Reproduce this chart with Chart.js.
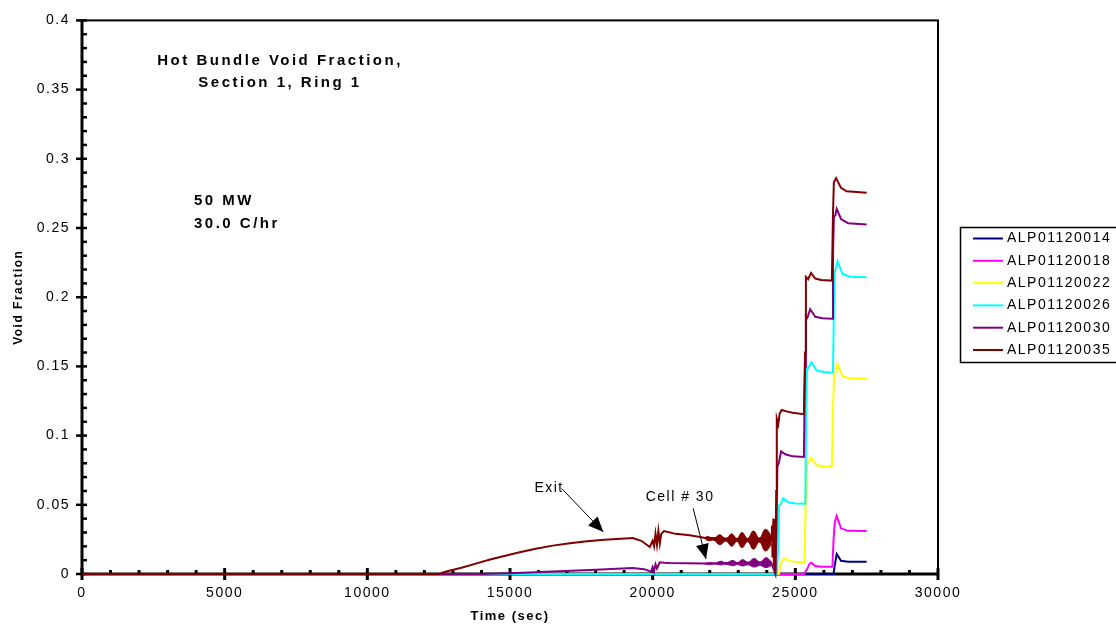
<!DOCTYPE html>
<html>
<head>
<meta charset="utf-8">
<script src="https://cdn.jsdelivr.net/npm/chart.js@4.4.0/dist/chart.umd.min.js"></script>
<style>
body { margin: 0; background: #fff; }
</style>
</head>
<body>
<canvas id="voidChart" width="1116" height="627"></canvas>
<script>
// series labels and colours (legend order)
let seriesNames = ['ALP01120014', 'ALP01120018', 'ALP01120022', 'ALP01120026', 'ALP01120030', 'ALP01120035'];
let seriesColors = ['#000080', '#ff00ff', '#ffff00', '#00ffff', '#800080', '#800000'];

// [time (sec), void fraction]
let alp14 = [[0, 0], [26340, 0], [26380, 0.006], [26450, 0.0144], [26600, 0.0095], [26850, 0.0088], [27500, 0.0088]];
let alp18 = [[0, 0], [25300, 0], [25400, 0.003], [25500, 0.0075], [25560, 0.0081], [25700, 0.0058], [25900, 0.0053],
	[26300, 0.0053], [26340, 0.025], [26380, 0.037], [26450, 0.0419], [26600, 0.033], [26850, 0.0312], [27500, 0.031]];
let alp22 = [[0, 0], [24420, 0], [24470, 0.006], [24520, 0.0088], [24620, 0.0115], [24800, 0.0092], [25000, 0.0088],
	[25320, 0.0086], [25360, 0.05], [25400, 0.0797], [25450, 0.08], [25550, 0.084], [25750, 0.0785], [26000, 0.0776],
	[26280, 0.0776], [26320, 0.12], [26360, 0.144], [26400, 0.145], [26480, 0.1518], [26650, 0.143], [26900, 0.1415], [27500, 0.1413]];
let alp26 = [[0, 0], [24350, 0], [24400, 0.02], [24430, 0.0496], [24480, 0.05], [24570, 0.0546], [24750, 0.0518],
	[25000, 0.051], [25350, 0.0508], [25380, 0.12], [25410, 0.149], [25460, 0.149], [25560, 0.153], [25750, 0.147],
	[26000, 0.146], [26320, 0.1455], [26350, 0.19], [26380, 0.218], [26480, 0.226], [26650, 0.217], [26900, 0.2148], [27500, 0.2145]];
let alp30 = [[0, 0], [14000, 0], [15000, 0.0006], [16500, 0.0018], [18000, 0.003], [19300, 0.0043], [19700, 0.0035],
	[19950, 0.0017], [20000, 0.005], [20050, 0.002], [20100, 0.007], [20150, 0.004], [20250, 0.0085], [20400, 0.0082],
	[20600, 0.0079], [21200, 0.0077], [21800, 0.0075], [24150, 0.0084], [24250, 0.003], [24300, 0], [24340, 0.03],
	[24370, 0.0776], [24420, 0.08], [24500, 0.0885], [24650, 0.0865], [24900, 0.085], [25300, 0.0845], [25340, 0.15],
	[25370, 0.186], [25420, 0.185], [25520, 0.1913], [25700, 0.1858], [25950, 0.1848], [26290, 0.1845], [26320, 0.23],
	[26350, 0.258], [26400, 0.259], [26450, 0.2638], [26600, 0.2565], [26850, 0.2535], [27500, 0.2525]];
let alp35 = [[0, 0], [12500, 0], [12800, 0.002], [13300, 0.0045], [13800, 0.0075], [14300, 0.0105], [14800, 0.013],
	[15300, 0.0155], [15900, 0.0182], [16500, 0.0205], [17100, 0.0222], [17700, 0.0237], [18300, 0.0248], [18900, 0.0255],
	[19300, 0.026], [19600, 0.024], [19900, 0.0195], [20000, 0.024], [20050, 0.02], [20100, 0.029], [20150, 0.021],
	[20200, 0.031], [20250, 0.022], [20300, 0.029], [20400, 0.031], [20800, 0.029], [21300, 0.028], [21800, 0.0262],
	[24150, 0.0245], [24180, 0.035], [24200, 0.012], [24230, 0.04], [24250, 0.005], [24280, 0.03], [24300, 0],
	[24330, 0.06], [24350, 0.112], [24400, 0.108], [24450, 0.116], [24520, 0.1185], [24700, 0.1175], [24900, 0.1165],
	[25300, 0.1155], [25340, 0.16], [25370, 0.2147], [25450, 0.213], [25550, 0.2176], [25700, 0.2135], [25900, 0.2125],
	[26280, 0.212], [26320, 0.26], [26350, 0.283], [26430, 0.286], [26600, 0.279], [26800, 0.2765], [27500, 0.2755]];

// oscillation envelopes (upper / lower) after 21800 s
let exitUpper = [[21800, 0.0262], [21950, 0.027], [22150, 0.0256], [22350, 0.0284], [22570, 0.0254], [22770, 0.029],
	[22950, 0.0255], [23130, 0.030], [23330, 0.0257], [23530, 0.0311], [23740, 0.026], [23950, 0.0323], [24150, 0.028]];
let exitLower = [[21800, 0.0262], [21950, 0.024], [22150, 0.0244], [22350, 0.0212], [22570, 0.0238], [22770, 0.020],
	[22950, 0.0235], [23130, 0.019], [23330, 0.0233], [23530, 0.0179], [23740, 0.023], [23950, 0.0167], [24150, 0.021]];
let cellUpper = [[21800, 0.0075], [22000, 0.0082], [22200, 0.0078], [22380, 0.0092], [22570, 0.008], [22800, 0.0098],
	[22980, 0.0082], [23150, 0.0104], [23350, 0.0084], [23550, 0.0112], [23770, 0.0086], [23970, 0.0118], [24150, 0.009]];
let cellLower = [[21800, 0.0075], [22000, 0.0068], [22200, 0.0072], [22380, 0.0066], [22570, 0.007], [22800, 0.006],
	[22980, 0.0068], [23150, 0.0058], [23350, 0.0066], [23550, 0.005], [23770, 0.0062], [23970, 0.0046], [24150, 0.006]];

let allSeries = [alp14, alp18, alp22, alp26, alp30, alp35];

const FONT = 'Arial, "Liberation Sans", sans-serif';
const toXY = arr => arr.map(p => ({x: p[0], y: p[1]}));

let datasets = allSeries.map((s, i) => ({
	label: seriesNames[i],
	data: toXY(s),
	borderColor: seriesColors[i],
	borderWidth: 2,
	pointRadius: 0,
	tension: 0,
	clip: false,
	order: 6 - i
}));

function band(up, low, color) {
	return [{
		label: '',
		data: toXY(up),
		borderColor: color,
		borderWidth: 1,
		pointRadius: 0,
		tension: 0.45,
		fill: false,
		clip: false,
		order: 1
	}, {
		label: '',
		data: toXY(low),
		borderColor: color,
		backgroundColor: color,
		borderWidth: 1,
		pointRadius: 0,
		tension: 0.45,
		fill: '-1',
		clip: false,
		order: 1
	}];
}
datasets = datasets.concat(band(exitUpper, exitLower, '#800000'), band(cellUpper, cellLower, '#800080'));

function spacedText(ctx, text, x, y, font, spacing, align) {
	ctx.font = font;
	ctx.letterSpacing = spacing;
	ctx.textAlign = align || 'left';
	ctx.textBaseline = 'middle';
	ctx.fillStyle = '#000';
	ctx.fillText(text, x, y);
}

function arrow(ctx, x1, y1, x2, y2) {
	const ang = Math.atan2(y2 - y1, x2 - x1);
	const len = 15, half = 6.5;
	ctx.strokeStyle = '#000';
	ctx.lineWidth = 1;
	ctx.beginPath();
	ctx.moveTo(x1, y1);
	ctx.lineTo(x2, y2);
	ctx.stroke();
	ctx.beginPath();
	ctx.moveTo(x2, y2);
	ctx.lineTo(x2 - len * Math.cos(ang) + half * Math.sin(ang), y2 - len * Math.sin(ang) - half * Math.cos(ang));
	ctx.lineTo(x2 - len * Math.cos(ang) - half * Math.sin(ang), y2 - len * Math.sin(ang) + half * Math.cos(ang));
	ctx.closePath();
	ctx.fillStyle = '#000';
	ctx.fill();
}

const framePlugin = {
	id: 'framePlugin',
	beforeDraw(chart) {
		chart.ctx.letterSpacing = '1.5px';
	},
	beforeDatasetsDraw(chart) {
		const {ctx, chartArea: a, scales: {x, y}} = chart;
		ctx.save();
		ctx.strokeStyle = '#000';
		ctx.lineWidth = 2;
		ctx.strokeRect(a.left, a.top, a.right - a.left, a.bottom - a.top);
		ctx.lineWidth = 3;
		ctx.beginPath();
		ctx.moveTo(a.left, a.top);
		ctx.lineTo(a.left, a.bottom + 1.5);
		ctx.moveTo(a.left - 1.5, a.bottom);
		ctx.lineTo(a.right + 1, a.bottom);
		ctx.stroke();
		// y ticks: major every 0.05, minor every 0.01
		for (let i = 0; i <= 40; i++) {
			const py = y.getPixelForValue(i / 100);
			ctx.lineWidth = 2.5;
			ctx.beginPath();
			ctx.moveTo(i % 5 === 0 ? a.left - 6 : a.left, py);
			ctx.lineTo(a.left + 5, py);
			ctx.stroke();
		}
		// x ticks: major every 5000, minor every 1000
		for (let t = 0; t <= 30000; t += 1000) {
			const px = x.getPixelForValue(t);
			ctx.lineWidth = 3;
			ctx.beginPath();
			if (t % 5000 === 0) {
				ctx.moveTo(px, a.bottom - 6);
				ctx.lineTo(px, a.bottom + 6);
			} else {
				ctx.moveTo(px, a.bottom - 4);
				ctx.lineTo(px, a.bottom);
			}
			ctx.stroke();
		}
		ctx.restore();
	},
	afterDraw(chart) {
		const {ctx, scales: {x, y}} = chart;
		ctx.save();
		const bold = 'bold 15px ' + FONT;
		spacedText(ctx, 'Hot Bundle Void Fraction,', x.getPixelForValue(6940), y.getPixelForValue(0.371), bold, '2.5px', 'center');
		spacedText(ctx, 'Section 1, Ring 1', x.getPixelForValue(6940), y.getPixelForValue(0.3548), bold, '2.5px', 'center');
		spacedText(ctx, '50 MW', x.getPixelForValue(3925), y.getPixelForValue(0.2693), bold, '2.5px', 'left');
		spacedText(ctx, '30.0 C/hr', x.getPixelForValue(3925), y.getPixelForValue(0.2528), bold, '2.5px', 'left');

		const norm = '14px ' + FONT;
		spacedText(ctx, 'Exit', x.getPixelForValue(16370), y.getPixelForValue(0.0618), norm, '1.5px', 'center');
		arrow(ctx, x.getPixelForValue(16810), y.getPixelForValue(0.0618), x.getPixelForValue(18270), y.getPixelForValue(0.0304));
		spacedText(ctx, 'Cell # 30', x.getPixelForValue(20960), y.getPixelForValue(0.0553), norm, '1.5px', 'center');
		arrow(ctx, x.getPixelForValue(21420), y.getPixelForValue(0.0474), x.getPixelForValue(21870), y.getPixelForValue(0.0108));

		// legend box
		ctx.strokeStyle = '#000';
		ctx.lineWidth = 1.5;
		ctx.strokeRect(960.5, 227.5, 170, 135);
		seriesNames.forEach((name, i) => {
			const ly = 238.5 + i * 22.3;
			ctx.strokeStyle = seriesColors[i];
			ctx.lineWidth = 2;
			ctx.beginPath();
			ctx.moveTo(973, ly);
			ctx.lineTo(1003, ly);
			ctx.stroke();
			spacedText(ctx, name, 1007, ly, norm, '1.5px', 'left');
		});
		ctx.restore();
	}
};

var ctx = document.getElementById('voidChart').getContext('2d');
var voidChart = new Chart(ctx, {
	type: 'line',
	data: {datasets: datasets},
	options: {
		responsive: false,
		animation: false,
		layout: {padding: {top: 17, right: 178, left: 0, bottom: 0}},
		plugins: {
			legend: {display: false},
			tooltip: {enabled: false}
		},
		scales: {
			x: {
				type: 'linear',
				min: 0,
				max: 30000,
				afterFit: s => { s.height = 53; },
				grid: {display: false, drawTicks: false},
				border: {display: false},
				ticks: {
					stepSize: 5000,
					padding: 11,
					color: '#000',
					font: {size: 14, family: FONT},
					callback: v => String(v)
				},
				title: {
					display: true,
					text: 'Time (sec)',
					color: '#000',
					font: {size: 13, weight: 'bold', family: FONT},
					padding: {top: 0, bottom: 3}
				}
			},
			y: {
				type: 'linear',
				min: 0,
				max: 0.4,
				afterFit: s => { s.width = 82; },
				grid: {display: false, drawTicks: false},
				border: {display: false},
				ticks: {
					stepSize: 0.05,
					padding: 12,
					color: '#000',
					font: {size: 14, family: FONT},
					callback: v => String(+v.toFixed(2))
				},
				title: {
					display: true,
					text: 'Void Fraction',
					color: '#000',
					font: {size: 12, weight: 'bold', family: FONT},
					padding: {top: 11, bottom: 0}
				}
			}
		}
	},
	plugins: [framePlugin]
});
</script>
</body>
</html>
